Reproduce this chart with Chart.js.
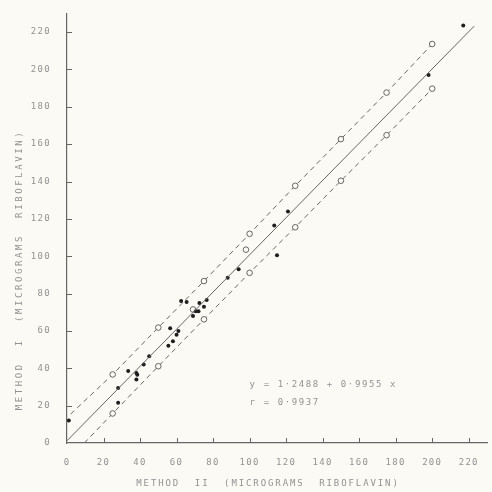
<!DOCTYPE html>
<html>
<head>
<meta charset="utf-8">
<script src="https://cdn.jsdelivr.net/npm/chart.js@4/dist/chart.umd.min.js"></script>
<style>
  html, body { margin: 0; padding: 0; background: #fbfaf5; }
  #wrap { width: 492px; height: 492px; }
</style>
</head>
<body>
<div id="wrap"><canvas id="riboChart" width="492" height="492"></canvas></div>
<script>
// axis ticks
const xTicks = [0, 20, 40, 60, 80, 100, 120, 140, 160, 180, 200, 220];
const yTicks = [0, 20, 40, 60, 80, 100, 120, 140, 160, 180, 200, 220];

// samples, method II (x) vs method I (y)
const methodII = [1, 28, 28, 33.5, 38, 38.5, 38, 42, 45, 56.5, 55.5, 58, 60, 61, 62.5, 65.5, 69, 70.5, 72, 72.5, 75, 76.5, 88, 94, 113.5, 115, 121, 198, 217];
const methodI  = [12, 29.5, 21.5, 38.5, 37.5, 36.5, 34, 42, 46.5, 61.5, 52, 54.5, 58, 60, 76, 75.5, 68, 70.5, 70.5, 75, 73, 76.5, 88.5, 93, 116.5, 100.5, 124, 197, 223.5];

// samples drawn as open circles
const openII = [69, 98];
const openI  = [71.5, 103.5];

// regression line  y = 1.2488 + 0.9955 x
const fitX = [0, 223];
const fitY = [1.2, 223.2];

// limit lines (dashed) with their circle markers
const upperX = [2, 25, 50, 75, 100, 125, 150, 175, 200];
const upperY = [15.5, 36.7, 61.8, 86.7, 112, 137.7, 162.7, 187.6, 213.6];
const lowerX = [9.5, 25, 50, 75, 100, 125, 150, 175, 200];
const lowerY = [0, 15.8, 41.1, 66.2, 91.1, 115.5, 140.4, 164.8, 189.7];

const eqLines = ['y = 1·2488 + 0·9955 x', 'r = 0·9937'];
const xTitle = 'METHOD  II  (MICROGRAMS  RIBOFLAVIN)';
const yTitle = 'METHOD  I  (MICROGRAMS  RIBOFLAVIN)';

const ink = '#666';
const textGrey = '#929292';
const fontFamily = '"DejaVu Sans Mono", monospace';

const pts = (xs, ys) => xs.map((x, i) => ({ x: x, y: ys[i] }));

const paper = {
  id: 'paper',
  beforeDraw(chart) {
    const ctx = chart.ctx;
    ctx.save();
    ctx.fillStyle = '#fbfaf5';
    ctx.fillRect(0, 0, chart.width, chart.height);
    ctx.restore();
    ctx.letterSpacing = '1.3px';
  },
  afterDraw(chart) {
    const ctx = chart.ctx;
    const xs = chart.scales.x, ys = chart.scales.y;
    ctx.save();
    // inward tick marks
    ctx.strokeStyle = ink;
    ctx.lineWidth = 1;
    yTicks.forEach(v => {
      if (v === 0) return;
      const py = Math.round(ys.getPixelForValue(v)) + 0.5;
      ctx.beginPath();
      ctx.moveTo(xs.left, py);
      ctx.lineTo(xs.left + 5, py);
      ctx.stroke();
    });
    xTicks.forEach(v => {
      if (v === 0) return;
      const px = Math.round(xs.getPixelForValue(v)) + 0.5;
      ctx.beginPath();
      ctx.moveTo(px, ys.bottom);
      ctx.lineTo(px, ys.bottom - 5);
      ctx.stroke();
    });
    // equation text
    ctx.fillStyle = textGrey;
    ctx.font = '9px ' + fontFamily;
    ctx.letterSpacing = '1.6px';
    ctx.textAlign = 'left';
    ctx.textBaseline = 'middle';
    ctx.fillText(eqLines[0], xs.getPixelForValue(100), ys.getPixelForValue(31));
    ctx.fillText(eqLines[1], xs.getPixelForValue(100), ys.getPixelForValue(21.5));
    // axis titles
    ctx.textAlign = 'center';
    ctx.letterSpacing = '1.9px';
    ctx.fillText(xTitle, 268, 484);
    ctx.translate(20, 270);
    ctx.rotate(-Math.PI / 2);
    ctx.letterSpacing = '2.6px';
    ctx.fillText(yTitle, 0, 0);
    ctx.restore();
  }
};

const ctx = document.getElementById('riboChart').getContext('2d');
new Chart(ctx, {
  type: 'scatter',
  data: {
    datasets: [
      {
        data: pts(fitX, fitY),
        showLine: true,
        borderColor: ink,
        borderWidth: 1,
        pointRadius: 0
      },
      {
        data: pts(upperX, upperY),
        showLine: true,
        borderColor: ink,
        borderWidth: 1,
        borderDash: [5, 4],
        pointRadius: upperX.map((x, i) => i === 0 ? 0 : 2.8),
        pointBorderWidth: 1,
        pointBorderColor: ink,
        pointBackgroundColor: '#fbfaf5'
      },
      {
        data: pts(lowerX, lowerY),
        showLine: true,
        borderColor: ink,
        borderWidth: 1,
        borderDash: [5, 4],
        pointRadius: lowerX.map((x, i) => i === 0 ? 0 : 2.8),
        pointBorderWidth: 1,
        pointBorderColor: ink,
        pointBackgroundColor: '#fbfaf5'
      },
      {
        data: pts(methodII, methodI),
        pointRadius: 2,
        pointBorderWidth: 0,
        pointBackgroundColor: '#1e1e1e'
      },
      {
        data: pts(openII, openI),
        pointRadius: 2.8,
        pointBorderWidth: 1,
        pointBorderColor: ink,
        pointBackgroundColor: '#fbfaf5'
      }
    ]
  },
  options: {
    responsive: false,
    animation: false,
    devicePixelRatio: 1,
    layout: { padding: { top: 12, right: 2, left: 0, bottom: 0 } },
    plugins: {
      legend: { display: false },
      tooltip: { enabled: false }
    },
    scales: {
      x: {
        type: 'linear',
        min: 0,
        max: 230,
        grid: { display: false },
        border: { color: ink, width: 1.2 },
        ticks: {
          padding: 6,
          color: textGrey,
          font: { family: fontFamily, size: 9 }
        },
        afterBuildTicks: s => { s.ticks = xTicks.map(v => ({ value: v })); },
        afterFit: s => { s.height = 49; }
      },
      y: {
        type: 'linear',
        min: 0,
        max: 230,
        grid: { display: false },
        border: { color: ink, width: 1.2 },
        ticks: {
          padding: 8,
          color: textGrey,
          font: { family: fontFamily, size: 9 }
        },
        afterBuildTicks: s => { s.ticks = yTicks.map(v => ({ value: v })); },
        afterFit: s => { s.width = 67; }
      }
    }
  },
  plugins: [paper]
});
</script>
</body>
</html>
